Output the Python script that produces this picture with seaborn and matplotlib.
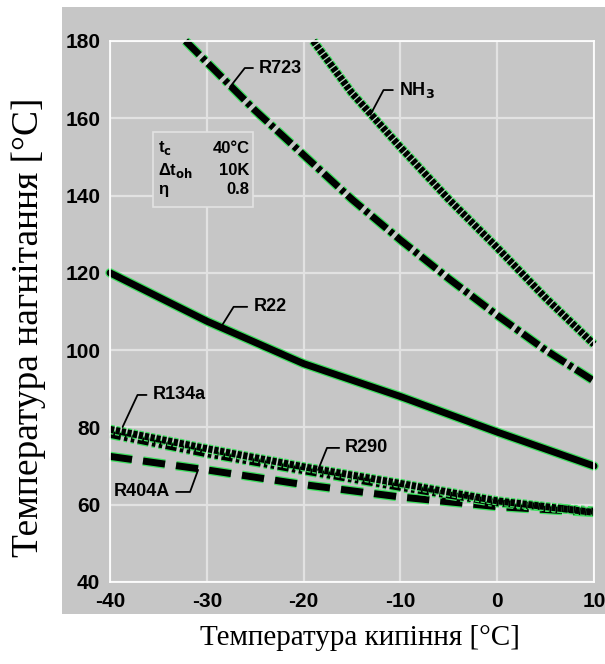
import matplotlib
matplotlib.use("Agg")
import matplotlib.pyplot as plt
import matplotlib.patheffects as pe
from matplotlib.patches import Rectangle
import seaborn as sns

# дані
r723_t = [-32.2, -30, -25, -20, -15, -10, -5, 0, 5, 10]
r723_v = [180, 174.5, 162, 150.5, 139, 128.5, 118.5, 109, 100, 92]

nh3_t = [-19, -15, -10, -5, 0, 5, 10]
nh3_v = [180, 166.5, 152.5, 139, 126.5, 113.5, 101.5]

t_kip = [-40, -30, -20, -10, 0, 10]
r22_v = [120, 107.5, 96.5, 88, 78.8, 70]
r134a_v = [79.5, 74.5, 69.8, 65.5, 61, 58]
r290_v = [78.2, 73.2, 68.8, 64.5, 60.5, 58.3]
r404a_v = [72.5, 69, 65.2, 62, 59.5, 58]

x_ticks = [-40, -30, -20, -10, 0, 10]
y_ticks = [40, 60, 80, 100, 120, 140, 160, 180]

gray = "#c6c6c6"
sns.set_theme(style="darkgrid", rc={"axes.facecolor": gray, "grid.color": "#e2e2e2",
                                    "grid.linewidth": 1.6, "text.color": "black",
                                    "axes.labelcolor": "black", "xtick.color": "black",
                                    "ytick.color": "black", "axes.unicode_minus": False})
plt.rcParams["font.family"] = ["Liberation Sans", "DejaVu Sans"]

fig = plt.figure(figsize=(6.05, 6.64), dpi=100)
fig.patches.append(Rectangle((0.1025, 0.0753), 0.8975, 0.9142, transform=fig.transFigure,
                             facecolor=gray, edgecolor="none", zorder=-10))
ax = fig.add_axes([0.1818, 0.1235, 0.8, 0.8148])

series = [
    (r723_t, r723_v, (2.8, 0.6, 0.6, 0.6)),
    (nh3_t, nh3_v, (0.6, 0.2)),
    (t_kip, r22_v, None),
    (t_kip, r404a_v, (3.2, 1.6)),
    (t_kip, r290_v, (1.6, 0.5, 0.5, 0.5, 0.5, 0.5)),
    (t_kip, r134a_v, (0.6, 0.25)),
]
lw = 5
for xs, ys, dash in series:
    sns.lineplot(x=xs, y=ys, ax=ax, color="black", lw=lw)
    line = ax.lines[-1]
    if dash is not None:
        line.set_dashes(dash)
    line.set_clip_on(False)
    line.set_path_effects([pe.Stroke(linewidth=lw + 1.8, foreground="#3fe060"), pe.Normal()])

ax.set_xlim(-40, 10)
ax.set_ylim(40, 180)
ax.set_xticks(x_ticks)
ax.set_yticks(y_ticks)
ax.tick_params(axis="both", length=0, pad=7, labelsize=15)
for lab in ax.get_xticklabels() + ax.get_yticklabels():
    lab.set_fontweight("bold")

# підписи кривих з виносками
labels = [
    ("R723", (-27.6, 168.1), (-24.6, 173.0), 52, "left"),
    (r"NH$_\mathbf{3}$", (-13.1, 160.9), (-10.15, 167.3), 62, "left"),
    ("R22", (-28.6, 105.7), (-25.2, 111.2), 58, "left"),
    ("R134a", (-38.7, 80.1), (-35.6, 88.4), 65, "left"),
    ("R290", (-18.5, 69.0), (-15.7, 74.7), 68, "left"),
    ("R404A", (-30.9, 69.0), (-33.8, 63.3), 70, "right"),
]
for txt, xy, xyt, ang, ha in labels:
    ax.annotate(txt, xy=xy, xytext=xyt, ha=ha, va="center", fontsize=13, fontweight="bold",
                arrowprops=dict(arrowstyle="-", color="black", lw=1.3, shrinkA=2, shrinkB=0,
                                relpos=(0 if ha == "left" else 1, 0.5),
                                connectionstyle=f"angle,angleA=0,angleB={ang},rad=0"))

# рамка з умовами
ax.add_patch(Rectangle((-35.56, 137.05), 10.33, 19.45, facecolor=gray, edgecolor="#e2e2e2",
                       lw=1.2, zorder=3))
rows = [(r"t$_\mathbf{c}$", "40°C"), (r"Δt$_\mathbf{oh}$", "10K"), ("η", "0.8")]
for (name, val), yy in zip(rows, [152.3, 146.6, 141.5]):
    ax.text(-35.0, yy, name, ha="left", va="center", fontsize=12, fontweight="bold", zorder=4)
    ax.text(-25.6, yy, val, ha="right", va="center", fontsize=12, fontweight="bold", zorder=4)

ax.set_xlabel("Температура кипіння [°C]", fontfamily="Liberation Serif", fontsize=21)
ax.set_ylabel("Температура нагнітання [°C]", fontfamily="Liberation Serif", fontsize=27)
ax.xaxis.set_label_coords(0.516, -0.08)
ax.yaxis.set_label_coords(-0.132, 0.47)

fig.savefig("out.png", dpi=100)
